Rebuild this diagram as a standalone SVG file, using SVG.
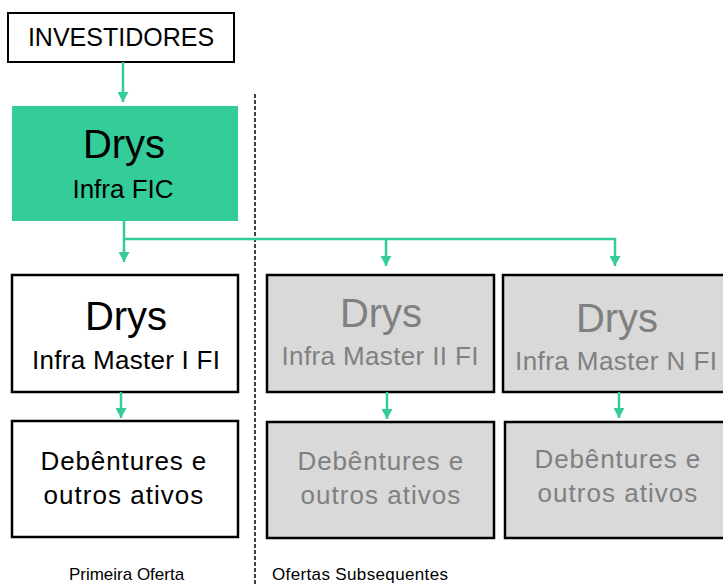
<svg xmlns="http://www.w3.org/2000/svg" width="723" height="586" viewBox="0 0 723 586">
<style>
text{font-family:"Liberation Sans",Arial,sans-serif;text-anchor:middle;}
.box{fill:#fff;stroke:#000;stroke-width:2.5;}
.gbox{fill:#d9d9d9;stroke:#000;stroke-width:2.5;}
.t{fill:#000;}
.g{fill:#808080;}
.big{font-size:40px;}
.mid{font-size:26px;}
.deb{font-size:26px;letter-spacing:1.2px;}
.foot{font-size:17px;}
.conn{fill:none;stroke:#34CC99;stroke-width:2.5;}
</style>
<defs>
<marker id="ah" markerUnits="userSpaceOnUse" markerWidth="11" markerHeight="11" refX="10" refY="5.5" orient="auto" viewBox="0 0 11 11">
<path d="M0,0 L10,5.5 L0,11 z" fill="#34CC99"/>
</marker>
</defs>
<rect width="723" height="586" fill="#fff"/>
<line x1="255" y1="94" x2="255" y2="586" stroke="#000" stroke-width="1.5" stroke-dasharray="4 2"/>
<g id="investidores">
<rect x="8" y="13" width="226" height="49" fill="#fff" stroke="#000" stroke-width="2"/>
<text x="121" y="46" class="t" font-size="25">INVESTIDORES</text>
</g>
<g id="fic">
<rect x="12" y="106" width="226" height="115" fill="#34CC99"/>
<text x="124" y="158" class="t big">Drys</text>
<text x="123" y="198" class="t mid">Infra FIC</text>
</g>
<g id="master1">
<rect x="12" y="275" width="226" height="117" class="box"/>
<text x="126" y="330" class="t big">Drys</text>
<text x="126" y="369" class="t mid" textLength="188">Infra Master I FI</text>
</g>
<g id="master2">
<rect x="267" y="275" width="227" height="117" class="gbox"/>
<text x="381" y="327" class="g big">Drys</text>
<text x="380" y="365" class="g mid" textLength="197">Infra Master II FI</text>
</g>
<g id="masterN">
<rect x="503" y="275" width="240" height="117" class="gbox"/>
<text x="617" y="332" class="g big">Drys</text>
<text x="616" y="370" class="g mid" textLength="202">Infra Master N FI</text>
</g>
<g id="deb1">
<rect x="12" y="421" width="226" height="116" class="box"/>
<text x="124" y="470" class="t deb" textLength="167">Debêntures e</text>
<text x="124" y="504" class="t deb" textLength="161">outros ativos</text>
</g>
<g id="deb2">
<rect x="267" y="422" width="227" height="116" class="gbox"/>
<text x="381" y="470" class="g deb" textLength="167">Debêntures e</text>
<text x="381" y="504" class="g deb" textLength="161">outros ativos</text>
</g>
<g id="debN">
<rect x="505" y="422" width="240" height="116" class="gbox"/>
<text x="618" y="468" class="g deb" textLength="167">Debêntures e</text>
<text x="618" y="502" class="g deb" textLength="161">outros ativos</text>
</g>
<g id="labels">
<text x="126.5" y="580" class="t foot">Primeira Oferta</text>
<text x="272" y="580" class="t foot" style="text-anchor:start" textLength="176">Ofertas Subsequentes</text>
</g>
<g id="connectors">
<line x1="123" y1="62" x2="123" y2="102" class="conn" marker-end="url(#ah)"/>
<line x1="124" y1="221" x2="124" y2="262" class="conn" marker-end="url(#ah)"/>
<polyline points="124,239 615,239 615,266" class="conn" marker-end="url(#ah)"/>
<line x1="386" y1="239" x2="386" y2="266" class="conn" marker-end="url(#ah)"/>
<line x1="121" y1="392" x2="121" y2="418" class="conn" marker-end="url(#ah)"/>
<line x1="387" y1="392" x2="387" y2="419" class="conn" marker-end="url(#ah)"/>
<line x1="619" y1="392" x2="619" y2="418" class="conn" marker-end="url(#ah)"/>
</g>
</svg>
